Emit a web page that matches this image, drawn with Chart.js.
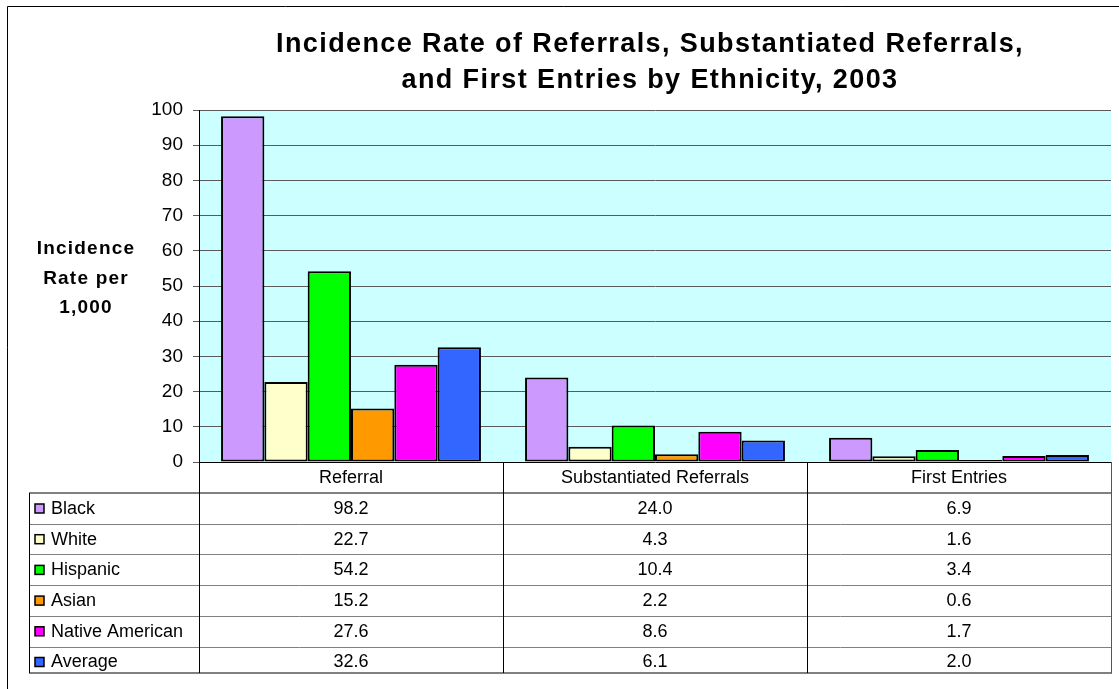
<!DOCTYPE html>
<html>
<head>
<meta charset="utf-8">
<script src="https://cdn.jsdelivr.net/npm/chart.js@4.4.1/dist/chart.umd.min.js"></script>
<style>
  html, body { margin: 0; padding: 0; background: #fff; }
  #wrap { position: relative; width: 1119px; height: 689px; }
</style>
</head>
<body>
<div id="wrap"><canvas id="chart" width="1119" height="689"></canvas></div>
<script>
/* data */
const categories = ['Referral', 'Substantiated Referrals', 'First Entries'];
const groups = ['Black', 'White', 'Hispanic', 'Asian', 'Native American', 'Average'];
const black = [98.2, 24.0, 6.9];
const white = [22.7, 4.3, 1.6];
const hispanic = [54.2, 10.4, 3.4];
const asian = [15.2, 2.2, 0.6];
const nativeAmerican = [27.6, 8.6, 1.7];
const average = [32.6, 6.1, 2.0];
const colors = ['#CC99FF', '#FFFFCC', '#00FF00', '#FF9900', '#FF00FF', '#3366FF'];
const titleLines = ['Incidence Rate of Referrals, Substantiated Referrals,', 'and First Entries by Ethnicity, 2003'];
const yTitleLines = ['Incidence', 'Rate per', '1,000'];

const FONT = 'Arial, "Liberation Sans", sans-serif';
const series = [black, white, hispanic, asian, nativeAmerican, average];

// Rahmen, Titel, Achsentitel und Datentabelle unter dem Diagramm
const decor = {
  id: 'decor',
  beforeDraw(chart) {
    const { ctx, chartArea: a } = chart;
    ctx.save();
    ctx.fillStyle = '#fff';
    ctx.fillRect(0, 0, chart.width, chart.height);
    ctx.fillStyle = '#CCFFFF';
    ctx.fillRect(a.left, a.top, a.right - a.left, a.bottom - a.top);
    ctx.restore();
  },
  afterDraw(chart) {
    const { ctx, chartArea: a } = chart;
    ctx.save();

    // outer frame (only top + left visible in the picture)
    ctx.strokeStyle = '#000';
    ctx.lineWidth = 1;
    ctx.beginPath();
    ctx.moveTo(7.5, chart.height); ctx.lineTo(7.5, 6.5); ctx.lineTo(chart.width, 6.5);
    ctx.stroke();

    // title
    ctx.fillStyle = '#000';
    ctx.textAlign = 'center';
    ctx.textBaseline = 'alphabetic';
    ctx.font = 'bold 27px ' + FONT;
    ctx.letterSpacing = '1.4px';
    titleLines.forEach((t, i) => ctx.fillText(t, 650, 52 + i * 36));

    // y axis title
    ctx.font = 'bold 19px ' + FONT;
    ctx.letterSpacing = '1.2px';
    yTitleLines.forEach((t, i) => ctx.fillText(t, 86, 254 + i * 29.5));
    ctx.letterSpacing = '0px';

    // data table
    const colW = (a.right - a.left) / categories.length;
    const headBot = a.bottom + 31;
    const rowH = 30.7;
    const tableBot = 673;
    const legLeft = 29;

    ctx.font = '18px ' + FONT;
    ctx.textBaseline = 'middle';
    categories.forEach((c, i) => ctx.fillText(c, a.left + colW * (i + 0.5), (a.bottom + headBot) / 2 + 1));

    ctx.save();
    ctx.beginPath();
    ctx.rect(0, headBot, chart.width, tableBot - headBot);
    ctx.clip();
    groups.forEach((g, r) => {
      const cy = headBot + r * rowH + 16;
      ctx.fillStyle = colors[r];
      ctx.fillRect(35, cy - 5, 9, 9);
      ctx.strokeStyle = '#000';
      ctx.lineWidth = 1.5;
      ctx.strokeRect(35, cy - 5, 9, 9);
      ctx.fillStyle = '#000';
      ctx.textAlign = 'left';
      ctx.fillText(g, 51, cy);
      ctx.textAlign = 'center';
      series[r].forEach((v, i) => ctx.fillText(v.toFixed(1), a.left + colW * (i + 0.5), cy));
    });
    ctx.restore();

    // horizontal rules
    ctx.strokeStyle = '#808080';
    ctx.lineWidth = 1;
    for (let r = 1; r < groups.length; r++) {
      const y = Math.round(headBot + r * rowH) + 0.5;
      ctx.beginPath(); ctx.moveTo(legLeft, y); ctx.lineTo(a.right, y); ctx.stroke();
    }
    ctx.lineWidth = 2;
    [headBot, tableBot].forEach(y => {
      ctx.beginPath(); ctx.moveTo(legLeft, y); ctx.lineTo(a.right + 1, y); ctx.stroke();
    });

    // vertical rules
    ctx.lineWidth = 1;
    for (let i = 0; i <= categories.length; i++) {
      const x = Math.round(a.left + colW * i) + 0.5;
      ctx.strokeStyle = i === categories.length ? '#555' : '#000';
      ctx.beginPath(); ctx.moveTo(x, a.bottom); ctx.lineTo(x, tableBot); ctx.stroke();
    }
    ctx.strokeStyle = '#000';
    ctx.beginPath(); ctx.moveTo(legLeft + 0.5, headBot); ctx.lineTo(legLeft + 0.5, tableBot); ctx.stroke();

    ctx.restore();
  }
};

new Chart(document.getElementById('chart'), {
  type: 'bar',
  data: {
    labels: categories,
    datasets: groups.map((g, i) => ({
      label: g,
      data: series[i],
      backgroundColor: colors[i],
      borderColor: '#000',
      borderWidth: 2,
      borderSkipped: false,
      categoryPercentage: 0.855,
      barPercentage: 1.0
    }))
  },
  options: {
    responsive: false,
    devicePixelRatio: 1,
    animation: false,
    layout: { padding: { top: 110, right: 8, bottom: 227, left: 0 } },
    plugins: {
      legend: { display: false },
      tooltip: { enabled: false },
      title: { display: false }
    },
    scales: {
      x: { display: false },
      y: {
        min: 0,
        max: 100,
        afterFit: s => { s.width = 199; },
        ticks: { stepSize: 10, color: '#000', padding: 10, font: { family: FONT, size: 19 } },
        grid: {
          color: c => (c.tick && c.tick.value === 0 ? '#000' : '#5a5a5a'),
          tickColor: '#5a5a5a',
          tickLength: 6,
          lineWidth: 1
        },
        border: { display: true, color: '#000', width: 1 }
      }
    }
  },
  plugins: [decor]
});
</script>
</body>
</html>
